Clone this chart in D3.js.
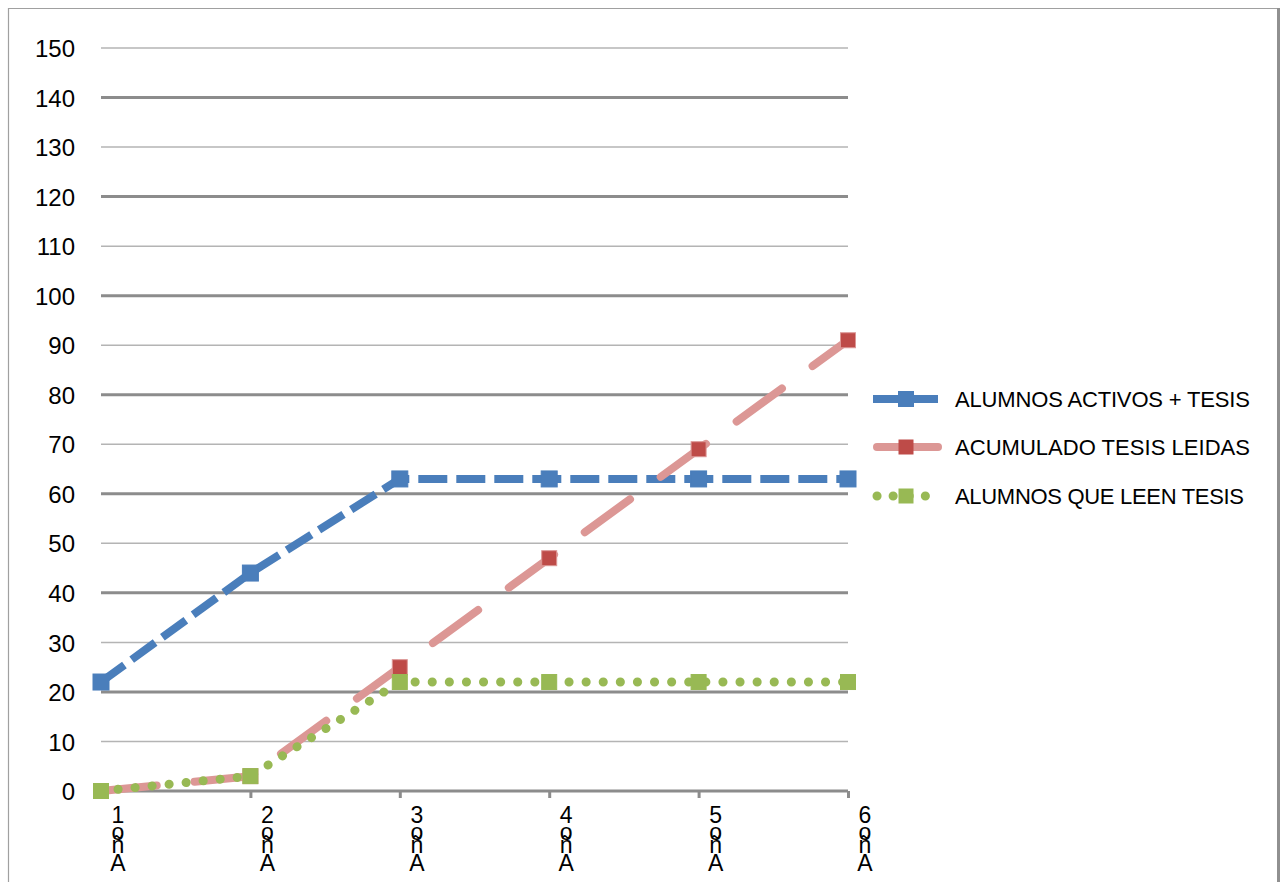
<!DOCTYPE html>
<html>
<head>
<meta charset="utf-8">
<script src="https://cdn.jsdelivr.net/npm/d3@7"></script>
<style>
  html, body { margin: 0; padding: 0; background: #fff; }
  svg { display: block; }
  text { font-family: "Liberation Sans", Arial, sans-serif; fill: #000; }
</style>
</head>
<body>
<script>
// ---- data ----
const categories = ["1", "2", "3", "4", "5", "6"];
const xLabelWord = ["o", "ñ", "A"]; // "Año" stacked (reversed, top to bottom)
const activos = [22, 44, 63, 63, 63, 63];
const acumulado = [0, 3, 25, 47, 69, 91];
const leen = [0, 3, 22, 22, 22, 22];
const yTicks = [0, 10, 20, 30, 40, 50, 60, 70, 80, 90, 100, 110, 120, 130, 140, 150];
const seriesNames = ["ALUMNOS ACTIVOS + TESIS", "ACUMULADO  TESIS LEIDAS", "ALUMNOS QUE LEEN TESIS"];

const W = 1285, H = 882;
const svg = d3.select("body").append("svg").attr("width", W).attr("height", H);

// outer border
svg.append("line").attr("x1", 8.5).attr("y1", 8).attr("x2", 8.5).attr("y2", H).attr("stroke", "#a0a0a0").attr("stroke-width", 1.2);
svg.append("line").attr("x1", 8).attr("y1", 8.5).attr("x2", 1279).attr("y2", 8.5).attr("stroke", "#a0a0a0").attr("stroke-width", 1.2);
svg.append("line").attr("x1", 1278.5).attr("y1", 8).attr("x2", 1278.5).attr("y2", H).attr("stroke", "#909090").attr("stroke-width", 3);

const x = d3.scalePoint().domain(categories).range([101, 848]).padding(0);
const y = d3.scaleLinear().domain([0, 150]).range([791, 48]);

// gridlines
const grid = svg.append("g");
yTicks.forEach(t => {
  if (t === 0) return;
  const thick = (t / 10) % 2 === 0;
  grid.append("line")
    .attr("x1", 101).attr("x2", 848)
    .attr("y1", y(t)).attr("y2", y(t))
    .attr("stroke", thick ? "#8c8c8c" : "#b4b4b4")
    .attr("stroke-width", thick ? 3 : 1.5);
});

// y axis labels
const yAxis = d3.axisLeft(y).tickValues(yTicks).tickSize(0).tickPadding(0);
const gy = svg.append("g").attr("transform", "translate(75,0)").call(yAxis);
gy.select(".domain").remove();
gy.selectAll("text").attr("font-size", 24).attr("font-family", "Liberation Sans, Arial, sans-serif").attr("fill", "#000").attr("dy", "0.36em");

// x axis
const xAxis = d3.axisBottom(x).tickSize(7).tickFormat("");
const gx = svg.append("g").attr("transform", `translate(0,${y(0)})`).call(xAxis);
gx.select(".domain").attr("stroke", "#8c8c8c").attr("stroke-width", 3).attr("d", `M101,0H848`);
gx.selectAll(".tick line").attr("stroke", "#8c8c8c").attr("stroke-width", 3);

// x labels (stacked characters)
const xl = svg.append("g");
categories.forEach(c => {
  const t = xl.append("text").attr("text-anchor", "middle").attr("font-size", 23)
    .attr("x", x(c) + 17);
  const chars = [c].concat(xLabelWord);
  const ys = [823, 840, 853, 871];
  chars.forEach((ch, i) => {
    t.append("tspan").attr("x", x(c) + 17).attr("y", ys[i]).text(ch);
  });
});

const line = d3.line().x((d, i) => x(categories[i])).y(d => y(d));

const styles = [
  { data: activos, stroke: "#4a7ebb", width: 8, dash: "29,9", cap: "butt", marker: "#4a7ebb", msize: 16 },
  { data: acumulado, stroke: "#dc9795", width: 8, dash: "56,38", cap: "round", marker: "#be4b48", msize: 15 },
  { data: leen, stroke: "#98b954", width: 9, dash: "0.1,17", cap: "round", marker: "#98b954", msize: 15 }
];

styles.forEach(s => {
  svg.append("path").datum(s.data).attr("d", line)
    .attr("fill", "none").attr("stroke", s.stroke).attr("stroke-width", s.width)
    .attr("stroke-dasharray", s.dash).attr("stroke-linecap", s.cap).attr("stroke-linejoin", "round");
  svg.append("g").selectAll("rect").data(s.data).join("rect")
    .attr("x", (d, i) => x(categories[i]) - s.msize / 2)
    .attr("y", d => y(d) - s.msize / 2)
    .attr("width", s.msize).attr("height", s.msize)
    .attr("fill", s.marker).attr("stroke", s.stroke).attr("stroke-width", 1);
});

// legend
const legY = [399, 447, 496];
const legLen = [295, 295, 289];
styles.forEach((s, i) => {
  const g = svg.append("g");
  g.append("line").attr("x1", s.cap === "round" ? 877 : 873).attr("x2", 938)
    .attr("y1", legY[i]).attr("y2", legY[i])
    .attr("stroke", s.stroke).attr("stroke-width", s.width)
    .attr("stroke-linecap", s.cap)
    .attr("stroke-dasharray", i === 2 ? "0.1,16" : null);
  g.append("rect").attr("x", 906 - s.msize / 2).attr("y", legY[i] - s.msize / 2)
    .attr("width", s.msize).attr("height", s.msize).attr("fill", s.marker);
  g.append("text").attr("x", 955).attr("y", legY[i] + 8).attr("font-size", 22)
    .attr("textLength", legLen[i]).attr("lengthAdjust", "spacing")
    .text(seriesNames[i]);
});
</script>
</body>
</html>
